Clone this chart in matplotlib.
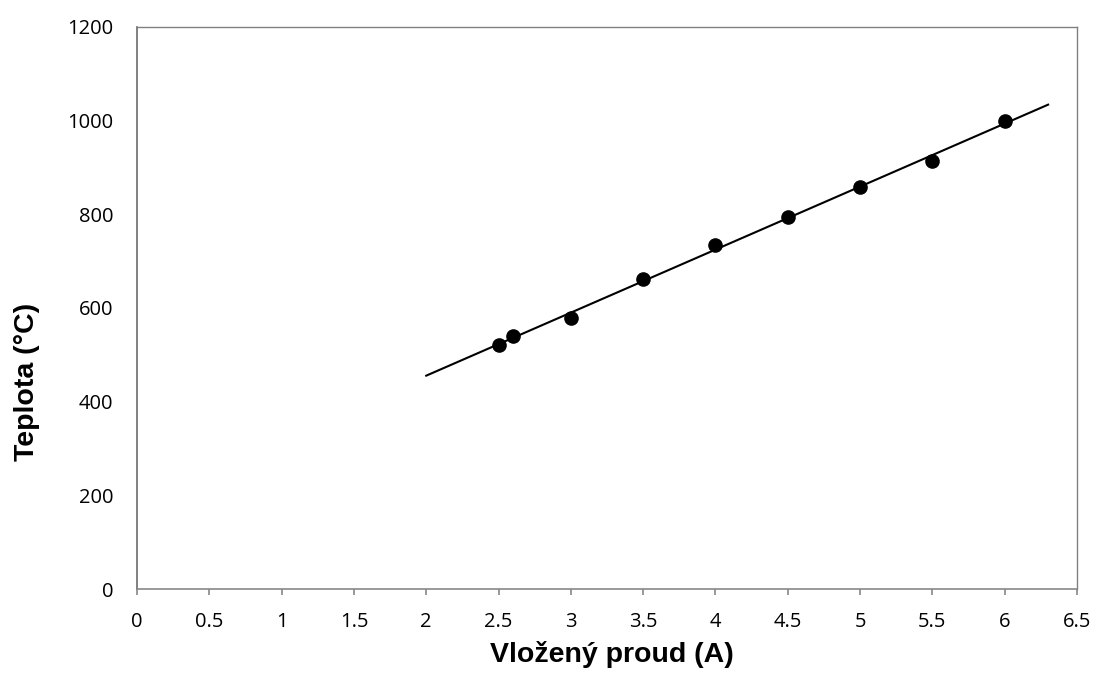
import numpy as np
import matplotlib
matplotlib.use("Agg")
import matplotlib.pyplot as plt

current_a = [2.5, 2.6, 3.0, 3.5, 4.0, 4.5, 5.0, 5.5, 6.0]
temp_c = [521, 540, 579, 662, 734, 794, 858, 914, 1000]
trend_range = [2.0, 6.3]
x_ticks = [0, 0.5, 1, 1.5, 2, 2.5, 3, 3.5, 4, 4.5, 5, 5.5, 6, 6.5]
x_ticklabels = ["0", "0.5", "1", "1.5", "2", "2.5", "3", "3.5", "4", "4.5", "5", "5.5", "6", "6.5"]
y_ticks = [0, 200, 400, 600, 800, 1000, 1200]

fig = plt.figure(figsize=(10.96, 6.73), dpi=100)
ax = fig.add_axes([0.125, 0.1248, 0.8577, 0.8352])

slope, intercept = np.polyfit(current_a, temp_c, 1)
tx = np.array(trend_range)
ax.plot(tx, slope * tx + intercept, color="black", lw=1.5, zorder=2)
ax.plot(current_a, temp_c, "o", color="black", ms=9.5, zorder=3)

ax.set_xlim(0, 6.5)
ax.set_ylim(0, 1200)
ax.set_xticks(x_ticks)
ax.set_xticklabels(x_ticklabels)
ax.set_yticks(y_ticks)

tick_font = "Open Sans"
for lbl in ax.get_xticklabels() + ax.get_yticklabels():
    lbl.set_fontfamily(tick_font)
    lbl.set_fontsize(14.5)
    lbl.set_color("black")

ax.tick_params(axis="x", direction="out", length=4.3, width=1.2, color="#888888", pad=12)
ax.tick_params(axis="y", length=0, pad=17)

ax.spines["left"].set_color("#6b6b6b")
ax.spines["left"].set_linewidth(1.2)
ax.spines["bottom"].set_color("#888888")
ax.spines["bottom"].set_linewidth(1.2)
for s in ["top", "right"]:
    ax.spines[s].set_color("#808080")
    ax.spines[s].set_linewidth(1.0)

ax.set_xlabel("Vložený proud (A)", fontfamily="Liberation Sans", fontweight="bold", fontsize=20.5)
ax.xaxis.set_label_coords(0.505, -0.092)
ax.xaxis.label.set_verticalalignment("top")

ax.set_ylabel("Teplota (°C)", fontfamily="Liberation Sans", fontweight="bold", fontsize=20.5)
ax.yaxis.set_label_coords(-0.117, 0.368)
ax.yaxis.label.set_verticalalignment("center")

fig.savefig("out.png", dpi=100, facecolor="white")
